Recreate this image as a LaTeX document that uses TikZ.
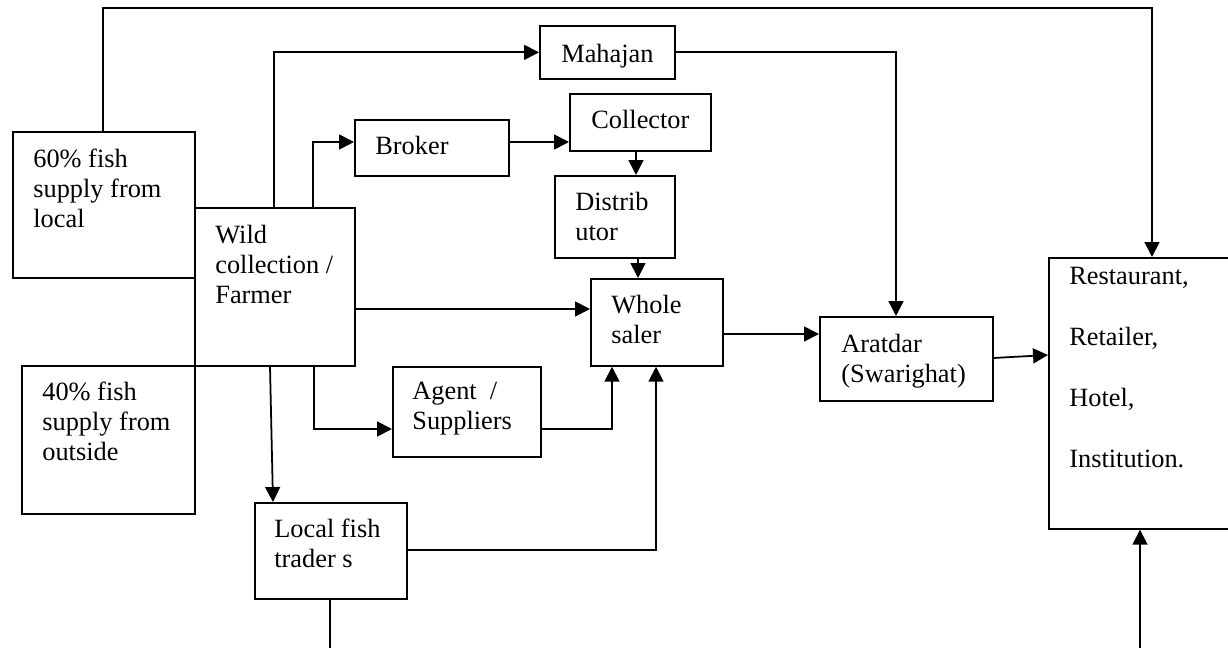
\documentclass[tikz,border=0pt]{standalone}
\usepackage{fontspec}
\setmainfont{Liberation Serif}
\usetikzlibrary{arrows.meta}
\tikzset{
  box/.style={draw, line width=1pt, anchor=north west, inner sep=0pt},
  txt/.style={anchor=north west, inner sep=0pt, align=left, font=\fontsize{15}{17}\selectfont},
  link/.style={line width=1pt, -{Triangle[length=8.5pt,width=8.5pt]}},
}
\begin{document}
\begin{tikzpicture}[x=0.02cm, y=-0.02cm]
\useasboundingbox (0,0) rectangle (1228,648);
% boxes
\node[box, minimum width=3.64cm, minimum height=2.92cm] (loc60) at (12,131) {};
\node[box, minimum width=3.2cm, minimum height=3.16cm] (wild) at (194,207) {};
\node[box, minimum width=3.46cm, minimum height=2.96cm] (out40) at (21,365) {};
\node[box, minimum width=2.7cm, minimum height=1.06cm] (mahajan) at (539,25) {};
\node[box, minimum width=3.08cm, minimum height=1.12cm] (broker) at (354,119) {};
\node[box, minimum width=2.82cm, minimum height=1.14cm] (collector) at (569,93) {};
\node[box, minimum width=2.4cm, minimum height=1.64cm] (distrib) at (554,175) {};
\node[box, minimum width=2.64cm, minimum height=1.74cm] (whole) at (590,278) {};
\node[box, minimum width=2.96cm, minimum height=1.8cm] (agent) at (392,366) {};
\node[box, minimum width=3.04cm, minimum height=1.92cm] (local) at (254,502) {};
\node[box, minimum width=3.46cm, minimum height=1.68cm] (aratdar) at (819,316) {};
\node[box, minimum width=3.94cm, minimum height=5.42cm] (retail) at (1048,257) {};
% texts
\node[txt] (t60) at (33,149) {60\% fish\\supply from\\local};
\node[txt] (twild) at (215,225) {Wild\\collection /\\Farmer};
\node[txt] (t40) at (42,382) {40\% fish\\supply from\\outside};
\node[txt] (tmahajan) at (561,44) {Mahajan};
\node[txt] (tbroker) at (375,136) {Broker};
\node[txt] (tcollector) at (591,110) {Collector};
\node[txt] (tdistrib) at (575,192) {Distrib\\utor};
\node[txt] (twhole) at (611,295) {Whole\\saler};
\node[txt] (tagent) at (412,382) {Agent\ \ /\\Suppliers};
\node[txt] (tlocal) at (274,519) {Local fish\\trader s};
\node[txt] (taratdar) at (841,334) {Aratdar\\(Swarighat)};
\node[txt, font=\fontsize{15}{34.7}\selectfont] (tretail) at (1069,267) {Restaurant,\\Retailer,\\Hotel,\\Institution.};
% links
\draw[link] (103,0 |- loc60.north) -- (103,8) -| (1152,0 |- retail.north);
\draw[link] (274,0 |- wild.north) |- (mahajan.west);
\draw[link] (313,0 |- wild.north) |- (broker.west |- 0,142);
\draw[link] (broker.east |- 0,142) -- (collector.west |- 0,142);
\draw[link] (636,0 |- collector.south) -- (636,0 |- distrib.north);
\draw[link] (638,0 |- distrib.south) -- (638,0 |- whole.north);
\draw[link] (mahajan.east) -| (896,0 |- aratdar.north);
\draw[link] (wild.east |- 0,309) -- (whole.west |- 0,309);
\draw[link] (whole.east |- 0,334) -- (aratdar.west |- 0,334);
\draw[link] (aratdar.east |- 0,358) -- (retail.west |- 0,355);
\draw[link] (314,0 |- wild.south) |- (agent.west |- 0,429);
\draw[link] (agent.east |- 0,429) -| (612,0 |- whole.south);
\draw[link] (270,0 |- wild.south) -- (273,0 |- local.north);
\draw[link] (local.east |- 0,550) -| (656,0 |- whole.south);
\draw[line width=1pt] (330,0 |- local.south) -- (330,652);
\draw[link] (1140,652) -- (1140,0 |- retail.south);
\end{tikzpicture}
\end{document}
